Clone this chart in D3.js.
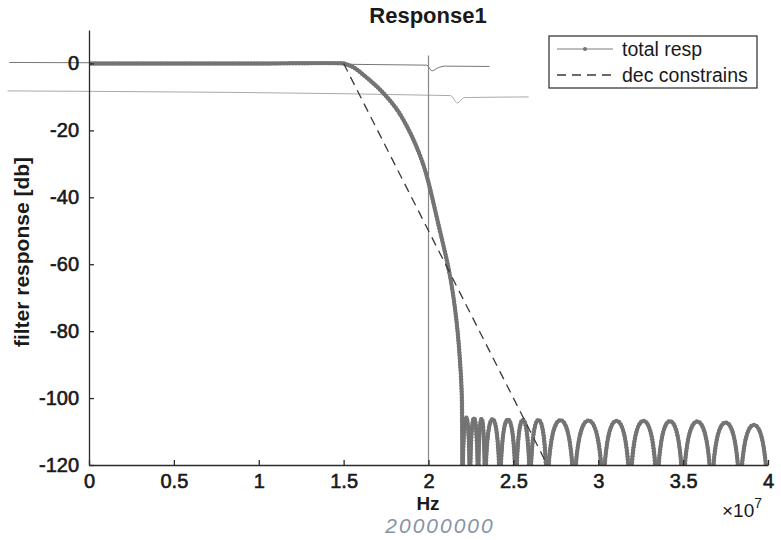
<!DOCTYPE html>
<html>
<head>
<meta charset="utf-8">
<script src="https://cdn.jsdelivr.net/npm/d3@7"></script>
<style>
  body { margin: 0; background: #fff; }
  svg { display: block; }
  text { font-family: "Liberation Sans", Arial, sans-serif; }
</style>
</head>
<body>
<div id="wrapper"></div>
<script>
// x in units of 1e7 Hz, y in dB
const xTicks = [0, 0.5, 1, 1.5, 2, 2.5, 3, 3.5, 4];
const xTickLabels = ["0", "0.5", "1", "1.5", "2", "2.5", "3", "3.5", "4"];
const yTicks = [-120, -100, -80, -60, -40, -20, 0];
const yTickLabels = ["-120", "-100", "-80", "-60", "-40", "-20", "0"];

// passband + roll-off of "total resp"
const respRolloff = [
  [0, 0], [0.5, 0], [1.0, 0], [1.5, 0], [1.508, -0.1], [1.56, -1.2], [1.614, -3.3],
  [1.714, -7.8], [1.813, -13.7], [1.891, -20.6], [1.95, -27.5], [1.989, -33.5],
  [2.058, -48], [2.117, -61], [2.146, -69.5], [2.17, -79.4], [2.186, -89.3],
  [2.196, -99.3], [2.2, -126]
];
// stopband lobes: null positions and peak levels
const lobeNulls = [2.2, 2.244, 2.292, 2.333, 2.421, 2.515, 2.598, 2.698, 2.857,
  3.028, 3.187, 3.346, 3.499, 3.667, 3.834, 4.0];
const lobePeaks = [-105.8, -106, -106.2, -106.3, -106.4, -106.5, -106.5, -106.6,
  -106.7, -106.8, -106.8, -106.9, -107, -107.3, -108];
// shape of one lobe: [fraction of lobe width, dB below peak]
const lobeProfile = [[0.05, -15], [0.1, -10], [0.2, -4.6], [0.3, -1.8], [0.4, -0.4], [0.5, 0],
  [0.6, -0.4], [0.7, -1.8], [0.8, -4.6], [0.9, -10], [0.95, -15], [1.0, -20]];

const decConstrains = [[1.5, 0], [2.7, -120]];

// scan marks on the page (reference lines)
const markLine1 = [[-0.47, 0.3], [1.99, -0.5], [2.02, -2.2], [2.06, -1.2], [2.1, -0.8], [2.36, -0.9]];
const markLine2 = [[-0.48, -8.2], [2.13, -9.6], [2.17, -11.8], [2.21, -10.2], [2.59, -10.0]];
const markVertical = [[2.0, 2.4], [2.0, -120]];

const dimensions = {
  width: 781,
  height: 540,
  margin: { top: 30, right: 13, bottom: 75, left: 89 }
};
dimensions.boundedWidth = dimensions.width - dimensions.margin.left - dimensions.margin.right;
dimensions.boundedHeight = dimensions.height - dimensions.margin.top - dimensions.margin.bottom;

const svg = d3.select("#wrapper")
  .append("svg")
  .attr("width", dimensions.width)
  .attr("height", dimensions.height);

const bounds = svg.append("g")
  .attr("transform", "translate(" + dimensions.margin.left + "," + dimensions.margin.top + ")");

const x = d3.scaleLinear().domain([0, 4]).range([0, dimensions.boundedWidth]);
const y = d3.scaleLinear().domain([-120, 10]).range([dimensions.boundedHeight, 0]);

bounds.append("defs").append("clipPath")
  .attr("id", "clip")
  .append("rect")
  .attr("width", dimensions.boundedWidth)
  .attr("height", dimensions.boundedHeight);

const line = d3.line().x(d => x(d[0])).y(d => y(d[1]));

// build the response series from the read values
const totalResp = respRolloff.slice();
lobePeaks.forEach((peak, i) => {
  const a = lobeNulls[i], b = lobeNulls[i + 1];
  lobeProfile.forEach(p => totalResp.push([a + (b - a) * p[0], peak + p[1]]));
});

// scan marks
bounds.append("path")
  .attr("d", line.curve(d3.curveMonotoneX)(markLine1))
  .attr("fill", "none").attr("stroke", "#777").attr("stroke-width", 1);
bounds.append("path")
  .attr("d", line.curve(d3.curveMonotoneX)(markLine2))
  .attr("fill", "none").attr("stroke", "#aaa").attr("stroke-width", 1);
bounds.append("path")
  .attr("d", line.curve(d3.curveLinear)(markVertical))
  .attr("fill", "none").attr("stroke", "#888").attr("stroke-width", 1.2);

const plot = bounds.append("g").attr("clip-path", "url(#clip)");

// total resp
const respPath = plot.append("path")
  .attr("d", line.curve(d3.curveCatmullRom)(totalResp))
  .attr("fill", "none")
  .attr("stroke", "#7c7c7c")
  .attr("stroke-width", 3.4);

// '.' markers along the response
const node = respPath.node();
const len = node.getTotalLength();
const dots = d3.range(0, len, 3).map(l => node.getPointAtLength(l));
plot.append("g")
  .selectAll("circle")
  .data(dots)
  .join("circle")
  .attr("cx", d => d.x)
  .attr("cy", d => d.y)
  .attr("r", 2.2)
  .attr("fill", "#747474");

// dec constrains
plot.append("path")
  .attr("d", line.curve(d3.curveLinear)(decConstrains))
  .attr("fill", "none")
  .attr("stroke", "#3a3a3a")
  .attr("stroke-width", 1.3)
  .attr("stroke-dasharray", "9,6");

// axes
const yAxis = bounds.append("g")
  .call(d3.axisLeft(y).tickValues(yTicks).tickFormat((d, i) => yTickLabels[i])
    .tickSizeInner(-5).tickSizeOuter(0).tickPadding(10));
const xAxis = bounds.append("g")
  .attr("transform", "translate(0," + dimensions.boundedHeight + ")")
  .call(d3.axisBottom(x).tickValues(xTicks).tickFormat((d, i) => xTickLabels[i])
    .tickSizeInner(-5).tickSizeOuter(0).tickPadding(9));

[xAxis, yAxis].forEach(ax => {
  ax.select(".domain").attr("stroke", "#2a2a2a").attr("stroke-width", 1.3);
  ax.selectAll(".tick line").attr("stroke", "#2a2a2a").attr("stroke-width", 1.3);
  ax.selectAll(".tick text")
    .attr("font-size", 20)
    .attr("font-family", "Liberation Sans, Arial, sans-serif")
    .attr("fill", "#1a1a1a")
    .attr("stroke", "#1a1a1a")
    .attr("stroke-width", 0.6);
});

// title and labels
svg.append("text")
  .attr("x", 428).attr("y", 23)
  .attr("text-anchor", "middle")
  .attr("font-size", 22).attr("font-weight", "bold").attr("fill", "#1a1a1a")
  .text("Response1");

svg.append("text")
  .attr("transform", "translate(29,252) rotate(-90)")
  .attr("text-anchor", "middle")
  .attr("font-size", 21).attr("font-weight", "bold").attr("fill", "#1a1a1a")
  .text("filter response [db]");

svg.append("text")
  .attr("x", 428).attr("y", 510)
  .attr("text-anchor", "middle")
  .attr("font-size", 19).attr("font-weight", "bold").attr("fill", "#1a1a1a")
  .text("Hz");

const expo = svg.append("text")
  .attr("x", 722).attr("y", 517)
  .attr("font-size", 19).attr("fill", "#1a1a1a");
expo.append("tspan").text("\u00d710");
expo.append("tspan").attr("dy", -9).attr("font-size", 14).text("7");

// handwritten note
svg.append("text")
  .attr("x", 440).attr("y", 533)
  .attr("text-anchor", "middle")
  .attr("font-size", 21).attr("font-style", "italic")
  .attr("font-family", "Liberation Serif, serif")
  .attr("letter-spacing", 2)
  .attr("fill", "#8893a6")
  .text("20000000");

// legend
const legend = svg.append("g").attr("transform", "translate(549,36)");
legend.append("rect")
  .attr("width", 208).attr("height", 52)
  .attr("fill", "#fff").attr("stroke", "#2a2a2a").attr("stroke-width", 1.2);
legend.append("line")
  .attr("x1", 8).attr("x2", 64).attr("y1", 13).attr("y2", 13)
  .attr("stroke", "#7c7c7c").attr("stroke-width", 1);
legend.append("circle")
  .attr("cx", 36).attr("cy", 13).attr("r", 2).attr("fill", "#747474");
legend.append("line")
  .attr("x1", 8).attr("x2", 64).attr("y1", 39).attr("y2", 39)
  .attr("stroke", "#3a3a3a").attr("stroke-width", 1.3).attr("stroke-dasharray", "9,6");
legend.append("text").attr("x", 73).attr("y", 20)
  .attr("font-size", 19.5).attr("fill", "#1a1a1a").text("total resp");
legend.append("text").attr("x", 73).attr("y", 46)
  .attr("font-size", 19.5).attr("fill", "#1a1a1a").text("dec constrains");
</script>
</body>
</html>
